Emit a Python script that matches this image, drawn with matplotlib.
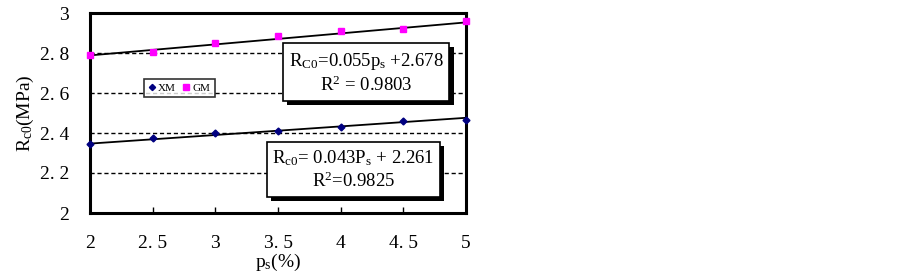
import matplotlib
matplotlib.use("Agg")
import matplotlib.pyplot as plt
import matplotlib.patheffects as pe
import numpy as np

plt.rcParams['font.family'] = ['Liberation Serif', 'DejaVu Serif']
plt.rcParams['mathtext.fontset'] = 'custom'
plt.rcParams['mathtext.rm'] = 'Liberation Serif'
plt.rcParams['mathtext.it'] = 'Liberation Serif'

ps = [2, 2.5, 3, 3.5, 4, 4.5, 5]
xm = [2.345, 2.375, 2.398, 2.412, 2.432, 2.458, 2.466]
gm = [2.788, 2.805, 2.852, 2.887, 2.912, 2.922, 2.958]
xm_fit = (0.043, 2.261)
gm_fit = (0.055, 2.678)
xticks = [2, 2.5, 3, 3.5, 4, 4.5, 5]
xticklabels = ["2", "2. 5", "3", "3. 5", "4", "4. 5", "5"]
yticks = [2, 2.2, 2.4, 2.6, 2.8, 3]
yticklabels = ["2", "2. 2", "2. 4", "2. 6", "2. 8", "3"]

fig = plt.figure(figsize=(9.03, 2.8), dpi=100)
ax = fig.add_axes([90/903, 1-213/280, 376/903, 200/280])

xx = np.array([2, 5])
ax.plot(xx, xm_fit[0]*xx + xm_fit[1], color='black', lw=1.3, zorder=3)
ax.plot(xx, gm_fit[0]*xx + gm_fit[1], color='black', lw=1.3, zorder=3)
ax.plot(ps, xm, linestyle='none', marker='D', ms=3.5, color='#000080', label='XM', zorder=4, clip_on=False)
ax.plot(ps, gm, linestyle='none', marker='s', ms=4.5, color='#ff00ff', label='GM', zorder=4, clip_on=False)

ax.set_xlim(2, 5)
ax.set_ylim(2, 3)
ax.set_xticks(xticks)
ax.set_xticklabels(xticklabels)
ax.set_yticks(yticks)
ax.set_yticklabels(yticklabels)
ax.tick_params(axis='x', direction='in', length=4, width=1, pad=16, labelsize=14)
ax.tick_params(axis='y', length=0, pad=15, labelsize=14)
for y in [2.2, 2.4, 2.6, 2.8]:
    ax.axhline(y, color='black', lw=1, ls=(0, (3, 2)), zorder=1)
for s in ax.spines.values():
    s.set_linewidth(2.2)

ax.set_xlabel("p$_{\\rm s}$(%)", fontsize=14, labelpad=0)
ax.set_ylabel("R$_{\\rm c0}$(MPa)", fontsize=14, labelpad=3)

leg = ax.legend(loc='upper left', bbox_to_anchor=(0.13, 0.7), ncol=2, fontsize=8,
                frameon=True, fancybox=False, handlelength=0.5, handletextpad=0.3,
                columnspacing=0.7, borderpad=0.4, markerscale=0.9)
leg.get_frame().set_edgecolor('black')
leg.get_frame().set_linewidth(1.2)

shadow = [pe.SimplePatchShadow(offset=(3, -3), shadow_rgbFace='black', alpha=1), pe.Normal()]
t1 = ax.text(0.735, 0.70, "R$_{\\rm C0}$=0.055p$_{\\rm s}$ +2.678\nR$^2$ = 0.9803", transform=ax.transAxes,
             ha='center', va='center', fontsize=13.5, linespacing=1.25, zorder=5,
             bbox=dict(boxstyle='square,pad=0.3', fc='white', ec='black', lw=1.2))
t1.get_bbox_patch().set_path_effects(shadow)
t2 = ax.text(0.7, 0.215, "R$_{\\rm c0}$= 0.043P$_{\\rm s}$ + 2.261\nR$^2$=0.9825", transform=ax.transAxes,
             ha='center', va='center', fontsize=13.5, linespacing=1.25, zorder=5,
             bbox=dict(boxstyle='square,pad=0.3', fc='white', ec='black', lw=1.2))
t2.get_bbox_patch().set_path_effects(shadow)

fig.savefig("out.png", dpi=100)
